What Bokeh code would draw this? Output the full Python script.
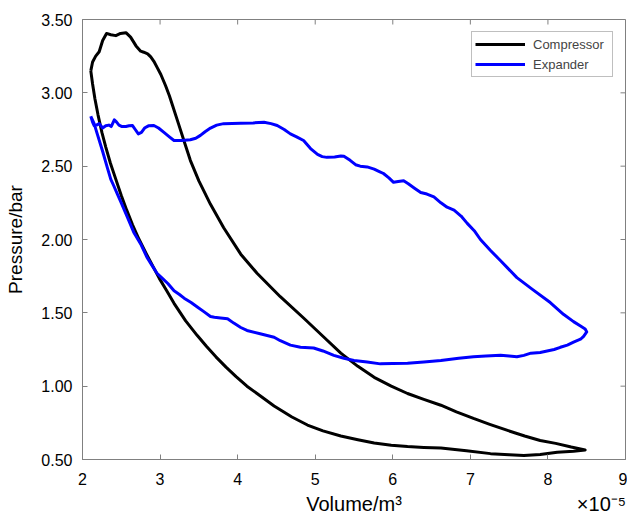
from bokeh.plotting import figure
from bokeh.models import (Range1d, LinearAxis, FixedTicker, NumeralTickFormatter,
                          Legend, LegendItem)
from bokeh.embed import file_html
from bokeh.resources import INLINE

# Volume in units of 1e-5 m^3, pressure in bar
comp_v = [2.107, 2.13, 2.16, 2.20, 2.25, 2.30, 2.36, 2.43, 2.50, 2.57, 2.645, 2.73,
          2.82, 2.90, 2.99, 3.08, 3.18, 3.33, 3.48, 3.60, 3.72, 3.85, 3.98, 4.12, 4.25,
          4.47, 4.70, 4.90, 5.10, 5.33, 5.55, 5.76, 5.98, 6.19, 6.40, 6.62, 6.95, 7.26,
          7.50, 7.69, 7.90, 8.12, 8.33, 8.48,
          8.30, 8.10, 7.90, 7.70, 7.47, 7.25, 7.04, 6.82, 6.62, 6.40, 6.19, 5.98, 5.76,
          5.55, 5.33, 5.13, 4.85, 4.55, 4.25, 4.04, 3.82, 3.65, 3.50, 3.39, 3.31, 3.24,
          3.16, 3.12, 3.07, 3.01, 2.96, 2.92, 2.88, 2.84, 2.79, 2.75, 2.69, 2.62, 2.56,
          2.49, 2.43, 2.365, 2.31, 2.26, 2.215, 2.17, 2.13, 2.107]
comp_p = [3.15, 3.06, 2.96, 2.85, 2.73, 2.63, 2.52, 2.41, 2.30, 2.20, 2.10, 2.00,
          1.905, 1.825, 1.735, 1.655, 1.565, 1.445, 1.345, 1.27, 1.20, 1.13, 1.065, 1.00, 0.95,
          0.865, 0.79, 0.735, 0.695, 0.66, 0.635, 0.612, 0.597, 0.588, 0.582, 0.578, 0.56, 0.54,
          0.532, 0.527, 0.534, 0.55, 0.556, 0.565,
          0.585, 0.61, 0.63, 0.66, 0.70, 0.74, 0.78, 0.825, 0.87, 0.91, 0.95, 1.00, 1.06,
          1.135, 1.225, 1.325, 1.465, 1.61, 1.77, 1.90, 2.08, 2.24, 2.40, 2.54, 2.67, 2.785,
          2.915, 2.98, 3.05, 3.125, 3.175, 3.215, 3.245, 3.266, 3.277, 3.284, 3.32, 3.38, 3.41,
          3.405, 3.39, 3.396, 3.405, 3.357, 3.28, 3.25, 3.21, 3.15]

exp_v = [2.107, 2.13, 2.15, 2.18, 2.215, 2.26, 2.30, 2.34, 2.37, 2.41, 2.44, 2.47, 2.51,
         2.56, 2.60, 2.645, 2.68, 2.72, 2.76, 2.80, 2.85, 2.92, 2.98, 3.05, 3.12, 3.18,
         3.28, 3.39, 3.46, 3.52, 3.58, 3.65, 3.73, 3.82, 4.04, 4.20, 4.34, 4.43, 4.51,
         4.60, 4.68, 4.76, 4.85, 4.94, 5.03, 5.09, 5.15, 5.25, 5.33, 5.37, 5.45, 5.52,
         5.58, 5.67, 5.76, 5.82, 5.88, 5.95, 6.01, 6.07, 6.14, 6.20, 6.28, 6.36, 6.44,
         6.53, 6.62, 6.70, 6.79, 6.88, 6.96, 7.05, 7.13, 7.26, 7.39, 7.60, 7.80, 8.03,
         8.20, 8.33, 8.42, 8.48, 8.50, 8.46, 8.42, 8.33, 8.25, 8.16, 8.08, 7.99, 7.90,
         7.78, 7.69, 7.60, 7.50, 7.39, 7.20, 7.04, 6.85, 6.62, 6.40, 6.19, 6.00, 5.84,
         5.67, 5.50, 5.37, 5.24, 5.10, 4.98, 4.81, 4.68, 4.55, 4.47, 4.29, 4.12, 4.04,
         3.95, 3.87, 3.78, 3.70, 3.65, 3.56, 3.48, 3.40, 3.31, 3.25, 3.18, 3.10, 3.03,
         2.96, 2.90, 2.83, 2.75, 2.66, 2.58, 2.50, 2.45, 2.40, 2.365, 2.32, 2.26, 2.19,
         2.15, 2.107]
exp_p = [2.84, 2.80, 2.777, 2.78, 2.79, 2.76, 2.775, 2.78, 2.77, 2.816, 2.80, 2.78, 2.77,
         2.77, 2.775, 2.777, 2.75, 2.72, 2.73, 2.76, 2.775, 2.777, 2.76, 2.73, 2.70, 2.675,
         2.675, 2.68, 2.69, 2.71, 2.735, 2.76, 2.78, 2.79, 2.793, 2.795, 2.80, 2.79, 2.777,
         2.75, 2.72, 2.70, 2.675, 2.62, 2.58, 2.565, 2.56, 2.563, 2.57, 2.568, 2.54, 2.51,
         2.50, 2.495, 2.48, 2.465, 2.45, 2.42, 2.39, 2.395, 2.40, 2.38, 2.35, 2.32, 2.31,
         2.29, 2.25, 2.22, 2.20, 2.16, 2.11, 2.06, 2.00, 1.925, 1.855, 1.74, 1.66, 1.57,
         1.49, 1.44, 1.41, 1.39, 1.37, 1.34, 1.32, 1.30, 1.28, 1.265, 1.25, 1.24, 1.23,
         1.225, 1.21, 1.20, 1.205, 1.21, 1.205, 1.20, 1.19, 1.175, 1.165, 1.157, 1.155, 1.152,
         1.165, 1.175, 1.19, 1.21, 1.24, 1.26, 1.265, 1.28, 1.31, 1.334, 1.357, 1.38, 1.40,
         1.43, 1.46, 1.465, 1.47, 1.475, 1.51, 1.54, 1.57, 1.60, 1.625, 1.65, 1.70, 1.735,
         1.77, 1.82, 1.88, 1.97, 2.05, 2.15, 2.25, 2.31, 2.37, 2.41, 2.49, 2.60, 2.72,
         2.79, 2.84]

x_ticks = [2, 3, 4, 5, 6, 7, 8, 9]
y_ticks = [0.5, 1.0, 1.5, 2.0, 2.5, 3.0, 3.5]
x_title = "Volume/m³"
x_scale_note = "×10⁻⁵"
y_title = "Pressure/bar"
series_names = ["Compressor", "Expander"]

FONT = "Liberation Sans"
GRAY = "#808080"
X0, X1 = x_ticks[0], x_ticks[-1]
Y0, Y1 = y_ticks[0], y_ticks[-1]

p = figure(width=627, height=520, output_backend="svg", toolbar_location=None,
           x_range=Range1d(X0, X1), y_range=Range1d(Y0, Y1),
           min_border_left=82, min_border_right=2, min_border_top=19, min_border_bottom=61)
p.xgrid.visible = False
p.ygrid.visible = False
p.outline_line_color = GRAY
p.background_fill_color = "white"
p.border_fill_color = "white"

r_c = p.line(comp_v, comp_p, line_color="black", line_width=3, line_join="round")
r_e = p.line(exp_v, exp_p, line_color="#0000ff", line_width=3, line_join="round")

# inward ticks on top and right edges (box style)
tick_len_y = 5 * (Y1 - Y0) / 440.0
tick_len_x = 5 * (X1 - X0) / 543.0
p.segment(x0=x_ticks, y0=[Y1] * len(x_ticks), x1=x_ticks, y1=[Y1 - tick_len_y] * len(x_ticks),
          line_color=GRAY, line_width=1)
p.segment(x0=[X1] * len(y_ticks), y0=y_ticks, x1=[X1 - tick_len_x] * len(y_ticks), y1=y_ticks,
          line_color=GRAY, line_width=1)


def style(ax):
    ax.axis_line_color = GRAY
    ax.major_tick_line_color = GRAY
    ax.major_tick_in = 5
    ax.major_tick_out = 0
    ax.minor_tick_in = 0
    ax.minor_tick_out = 0
    ax.minor_tick_line_color = None
    ax.major_label_text_font = FONT
    ax.major_label_text_font_size = "16px"
    ax.major_label_text_color = "black"
    ax.axis_label_text_font = FONT
    ax.axis_label_text_font_size = "19px"
    ax.axis_label_text_font_style = "normal"
    ax.axis_label_text_color = "black"


xa = p.xaxis[0]
ya = p.yaxis[0]
xa.ticker = FixedTicker(ticks=x_ticks)
ya.ticker = FixedTicker(ticks=y_ticks)
ya.formatter = NumeralTickFormatter(format="0.00")
style(xa)
style(ya)
ya.axis_label = y_title
xa.major_label_standoff = 13
ya.major_label_standoff = 10
ya.axis_label_standoff = 12

# second row below the axis: x title centred, scale note at the right end
note_pos = X1 - 0.31
title_axis = LinearAxis(ticker=FixedTicker(ticks=[(X0 + X1) / 2, note_pos]),
                        major_label_overrides={(X0 + X1) / 2: x_title, note_pos: x_scale_note})
title_axis.axis_line_color = None
title_axis.major_tick_line_color = None
title_axis.minor_tick_line_color = None
title_axis.major_tick_in = 0
title_axis.major_tick_out = 0
title_axis.major_label_standoff = 5
title_axis.major_label_text_font = FONT
title_axis.major_label_text_font_size = "20px"
title_axis.major_label_text_color = "black"
p.add_layout(title_axis, "below")

legend = Legend(items=[LegendItem(label=series_names[0], renderers=[r_c]),
                       LegendItem(label=series_names[1], renderers=[r_e])],
                location="top_right", margin=12, padding=3, spacing=2,
                glyph_width=50, glyph_height=18, label_height=18, label_width=76,
                label_standoff=8,
                label_text_font=FONT, label_text_font_size="13px",
                border_line_color=GRAY, border_line_width=1,
                background_fill_alpha=1.0)
p.add_layout(legend)

open("out.html", "w").write(file_html(p, INLINE))
